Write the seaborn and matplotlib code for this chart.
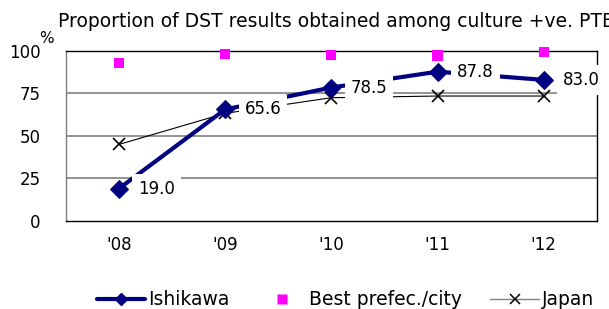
import numpy as np
import matplotlib
matplotlib.use('Agg')
import matplotlib.pyplot as plt
from matplotlib.lines import Line2D
import pandas as pd
import seaborn as sns

years = ["'08", "'09", "'10", "'11", "'12"]
ishikawa = [19.0, 65.6, 78.5, 87.8, 83.0]
best = [93.0, 98.4, 97.6, 97.3, 99.4]
japan = [45.0, 63.3, 72.5, 73.5, 73.5]

df = pd.DataFrame({
    'x': np.arange(len(years)),
    'ishikawa': ishikawa,
    'best': best,
    'japan': japan,
})

sns.set_style('white')
plt.rcParams['font.family'] = ['DejaVu Sans']
plt.rcParams['text.color'] = 'black'
plt.rcParams['xtick.color'] = 'black'
plt.rcParams['ytick.color'] = 'black'

navy = '#000080'
fig = plt.figure(figsize=(6.09, 3.09), dpi=100)
ax = fig.add_axes([0.108, 0.285, 0.872, 0.55])

for v in (25, 50, 75):
    ax.axhline(v, color='#808080', lw=1.2, zorder=0)

sns.lineplot(data=df, x='x', y='japan', ax=ax, color='black', lw=0.8,
             marker='x', markersize=8, markeredgewidth=1.2,
             markeredgecolor='black', zorder=2)
sns.lineplot(data=df, x='x', y='ishikawa', ax=ax, color=navy, lw=3,
             marker='D', markersize=9, markeredgecolor=navy, zorder=3)
sns.scatterplot(data=df, x='x', y='best', ax=ax, color='#ff00ff', marker='s',
                s=55, edgecolor='none', zorder=4, clip_on=False)

for xi, v in zip(df['x'], ishikawa):
    ax.annotate(f'{v:.1f}', (xi, v), xytext=(14, 0),
                textcoords='offset points', va='center', ha='left',
                fontsize=12, zorder=5,
                bbox=dict(boxstyle='square,pad=0.35', fc='white', ec='none'))

ax.set_xlim(-0.5, 4.5)
ax.set_ylim(0, 100)
ax.set_yticks([0, 25, 50, 75, 100])
ax.set_yticklabels(['0', '25', '50', '75', '100'], fontsize=12)
ax.set_xticks(np.arange(len(years)))
ax.set_xticklabels(years, fontsize=12)
ax.set_xticks(np.arange(len(years) - 1) + 0.5, minor=True)
ax.tick_params(axis='x', which='major', length=0, pad=11)
ax.tick_params(axis='x', which='minor', direction='in', length=4,
               width=0.8, color='black')
ax.tick_params(axis='y', length=0, pad=18)
ax.set_xlabel('')
ax.set_ylabel('')
for s in ax.spines.values():
    s.set_color('black')
    s.set_linewidth(1)
ax.spines['left'].set_color('#808080')

fig.text(0.095, 0.93, 'Proportion of DST results obtained among culture +ve. PTB',
         fontsize=13.5, ha='left', va='center')
fig.text(0.064, 0.875, '%', fontsize=11, ha='left', va='center')

handles = [
    Line2D([], [], color=navy, lw=3, marker='D', markersize=6),
    Line2D([], [], color='none', marker='s', markersize=7,
           markerfacecolor='#ff00ff', markeredgecolor='none'),
    Line2D([], [], color='#808080', lw=1, marker='x', markersize=7,
           markeredgecolor='black', markeredgewidth=1.1),
]
fig.legend(handles, ['Ishikawa', 'Best prefec./city', 'Japan'],
           loc='center', bbox_to_anchor=(0.567, 0.03), ncol=3, frameon=False,
           fontsize=13.5, handlelength=2.6, columnspacing=1.5,
           handletextpad=0.15)

fig.savefig('out.png', dpi=100)
